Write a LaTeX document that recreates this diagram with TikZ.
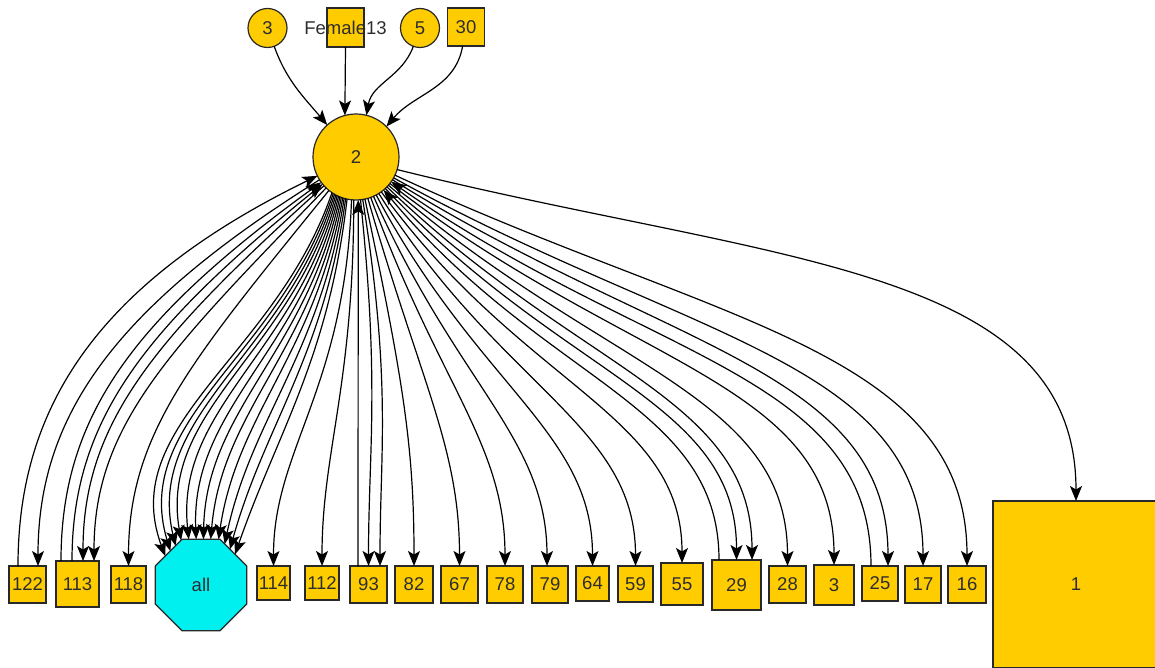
\documentclass[tikz,border=0pt]{standalone}
\usepackage{fontspec}
\setmainfont{Liberation Sans}
\usetikzlibrary{arrows.meta,shapes.geometric,calc}
\definecolor{gold}{RGB}{255,204,0}
\definecolor{aqua}{RGB}{0,240,240}
\definecolor{edgecol}{RGB}{40,40,40}
\definecolor{txt}{RGB}{45,45,45}
\begin{document}
\begin{tikzpicture}[x=1pt,y=1pt,
  every node/.style={font=\fontsize{18.5}{20}\selectfont, text=txt, inner sep=0pt, outer sep=0pt},
  bx/.style={rectangle, draw=edgecol, fill=gold, line width=1.2pt},
  cn/.style={circle, draw=edgecol, fill=gold, line width=1.2pt},
  oct/.style={regular polygon, regular polygon sides=8, draw=edgecol, fill=aqua, line width=1.2pt, minimum size=99pt},
  arr/.style={-{Stealth[length=15pt,width=12pt,inset=3.5pt]}, line width=1.2pt, black}]
\useasboundingbox (0,0) rectangle (1155,-668);
\clip (0,0) rectangle (1155,-668);
% top nodes
\node[cn, minimum size=39pt] (t3) at (267.5,-28) {3};
\node[bx, minimum width=37pt, minimum height=39pt, label={center:Female13}] (f13) at (345.5,-27.5) {};
\node[cn, minimum size=39pt] (t5) at (420,-28) {5};
\node[bx, minimum width=37pt, minimum height=38pt] (t30) at (466,-27) {30};
% central node
\node[cn, minimum size=86pt] (n2) at (356,-157) {2};
% bottom row
\node[bx, minimum width=37pt, minimum height=37pt] (n122) at (27.5,-584.5) {122};
\node[bx, minimum width=43pt, minimum height=46pt] (n113) at (77.5,-584) {113};
\node[bx, minimum width=35pt, minimum height=37pt] (n118) at (128.5,-584.5) {118};
\node[oct] (all) at (201,-585) {all};
\node[bx, minimum width=33pt, minimum height=34pt] (n114) at (273.5,-583) {114};
\node[bx, minimum width=34pt, minimum height=34pt] (n112) at (322,-583) {112};
\node[bx, minimum width=37pt, minimum height=37pt] (n93) at (368.5,-584.5) {93};
\node[bx, minimum width=38pt, minimum height=37pt] (n82) at (414,-584.5) {82};
\node[bx, minimum width=37pt, minimum height=37pt] (n67) at (459.5,-584.5) {67};
\node[bx, minimum width=36pt, minimum height=37pt] (n78) at (505,-584.5) {78};
\node[bx, minimum width=36pt, minimum height=37pt] (n79) at (550,-584.5) {79};
\node[bx, minimum width=33pt, minimum height=35pt] (n64) at (592.5,-583.5) {64};
\node[bx, minimum width=35pt, minimum height=36pt] (n59) at (635.5,-584) {59};
\node[bx, minimum width=42pt, minimum height=42pt] (n55) at (682,-584) {55};
\node[bx, minimum width=49pt, minimum height=50pt] (n29) at (736.5,-585) {29};
\node[bx, minimum width=37pt, minimum height=37pt] (n28) at (787.5,-584.5) {28};
\node[bx, minimum width=40pt, minimum height=40pt] (nb3) at (834,-585) {3};
\node[bx, minimum width=36pt, minimum height=35pt] (n25) at (880,-583.5) {25};
\node[bx, minimum width=36pt, minimum height=37pt] (n17) at (923,-584.5) {17};
\node[bx, minimum width=38pt, minimum height=37pt] (n16) at (967,-584.5) {16};
\node[bx, minimum width=166pt, minimum height=167pt] (n1) at (1076,-584.5) {1};
% top edges
\draw[arr] (t3) to[out=-70,in=130] (n2.132);
\draw[arr] (f13.south) -- (n2.105);
\draw[arr] (t5) to[out=-110,in=80] (n2.76);
\draw[arr] (t30) to[out=-100,in=50] (n2.45);
% edges from 2 to bottom boxes
\foreach \t/\dx/\a/\o in {n122/10.5/212/212, n113/5.5/222/222, n113/16.5/226/226, n118/0/231/231,
  n114/0/264/268, n112/0/267/270, n93/0/276/276, n93/11.5/279/279, n82/0/282/282, n67/0/286/286,
  n78/0/290/290, n79/-3/294/294, n64/0/298/298, n59/0/302/302, n55/0/306/306, n29/0/313/313,
  n29/15.5/316/316, n28/0/319/319, nb3/0/322/322, n25/8/328/328, n17/0/331/331, n16/0/335/335, n1/0/343/346}
  \draw[arr] (n2.\a) to[out=\o, in=90, out looseness=1.3, in looseness=0.8] ([xshift=\dx pt]\t.north);
% edges from bottom boxes to 2
\foreach \t/\dx/\a in {n122/-9.5/206, n113/-16.5/216, n113/-5.5/219, n29/-17.5/310, n25/-9/325}
  \draw[arr] ([xshift=\dx pt]\t.north) to[out=90, in=\a, out looseness=0.8, in looseness=1.3] (n2.\a);
\draw[arr] ([xshift=-10.5pt]n93.north) -- (n2.273);
% edges from 2 to all
\foreach \a/\g in {236/141, 238/132, 240/123, 242/114, 244/105, 246/96, 248/87, 250/78, 252/69, 254/60, 256/51, 258/42}
  \draw[arr] (n2.\a) to[out={\a+(270-\a)*0.45}, in={90+(\g-90)*0.4}, out looseness=1.1, in looseness=0.9] (all.\g);
\end{tikzpicture}
\end{document}
